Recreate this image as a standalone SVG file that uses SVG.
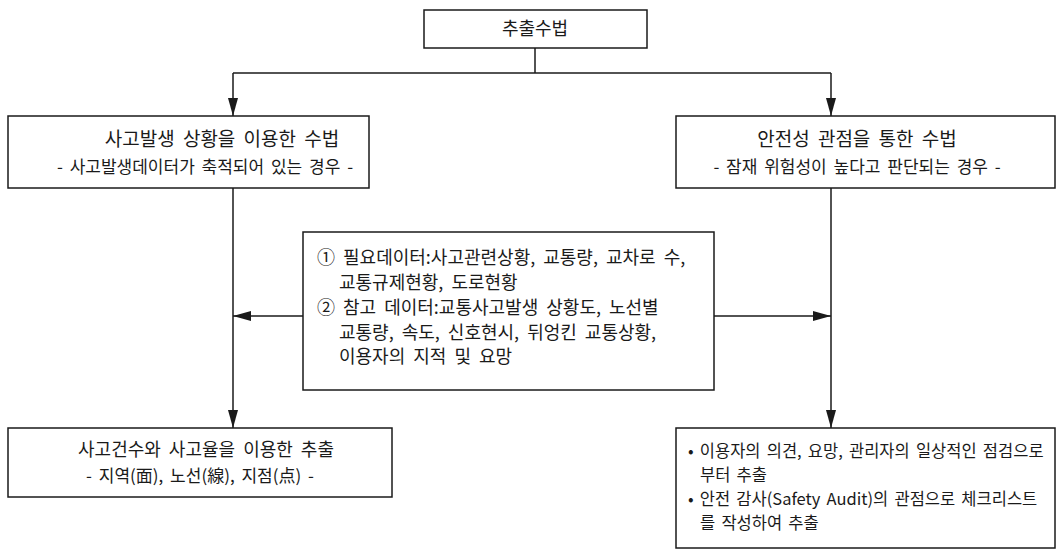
<svg xmlns="http://www.w3.org/2000/svg" width="1064" height="555" viewBox="0 0 1064 555">
<style>
.box{fill:#fff;stroke:#1a1a1a;stroke-width:1.5}
.ln{fill:none;stroke:#1a1a1a;stroke-width:1.5}
text{font-family:"Noto Sans CJK KR","Noto Sans",sans-serif;fill:#1a1a1a;font-size:17px;word-spacing:3px}
.t{font-size:19px;word-spacing:4px}
.c{text-anchor:middle}
.m{font-size:18px;word-spacing:4px}
.b{font-size:16.5px;word-spacing:2.5px}
</style>
<defs>
<marker id="ah" viewBox="0 0 18 10" refX="18" refY="5" markerWidth="18" markerHeight="10" markerUnits="userSpaceOnUse" orient="auto">
<path d="M0,0 L18,5 L0,10 Z" fill="#1a1a1a"/>
</marker>
</defs>
<rect width="1064" height="555" fill="#fff"/>
<g id="connectors">
<path class="ln" d="M535,48 V73"/>
<path class="ln" d="M233,73 H831"/>
<path class="ln" d="M233,73 V116" marker-end="url(#ah)"/>
<path class="ln" d="M831,73 V116" marker-end="url(#ah)"/>
<path class="ln" d="M233,188 V428" marker-end="url(#ah)"/>
<path class="ln" d="M831,188 V428" marker-end="url(#ah)"/>
<path class="ln" d="M303,316 H233" marker-end="url(#ah)"/>
<path class="ln" d="M714,316 H831" marker-end="url(#ah)"/>
</g>
<g id="top">
<rect class="box" x="424" y="10" width="223" height="38"/>
<text class="c" x="535" y="35" style="font-size:18px">추출수법</text>
</g>
<g id="left">
<rect class="box" x="8" y="116" width="361" height="72"/>
<text class="c t" x="222" y="146">사고발생 상황을 이용한 수법</text>
<text class="c" x="205" y="173">- 사고발생데이터가 축적되어 있는 경우 -</text>
</g>
<g id="right">
<rect class="box" x="676" y="116" width="379" height="72"/>
<text class="c t" x="857" y="146">안전성 관점을 통한 수법</text>
<text class="c" x="857" y="173">- 잠재 위험성이 높다고 판단되는 경우 -</text>
</g>
<g id="middle">
<rect class="box" x="303" y="232" width="411" height="158"/>
<text class="m" x="317" y="264">① 필요데이터:사고관련상황, 교통량, 교차로 수,</text>
<text class="m" x="339" y="289">교통규제현황, 도로현황</text>
<text class="m" x="317" y="314">② 참고 데이터:교통사고발생 상황도, 노선별</text>
<text class="m" x="339" y="339">교통량, 속도, 신호현시, 뒤엉킨 교통상황,</text>
<text class="m" x="339" y="363">이용자의 지적 및 요망</text>
</g>
<g id="bottomleft">
<rect class="box" x="8" y="428" width="384" height="69"/>
<text class="c t" x="206" y="456" style="font-size:18px">사고건수와 사고율을 이용한 추출</text>
<text class="c" x="200" y="482">- 지역(面), 노선(線), 지점(点) -</text>
</g>
<g id="bottomright">
<rect class="box" x="676" y="428" width="379" height="120"/>
<text class="b" x="688" y="457">• 이용자의 의견, 요망, 관리자의 일상적인 점검으로</text>
<text class="b" x="700" y="481">부터 추출</text>
<text class="b" x="688" y="505">• 안전 감사(Safety Audit)의 관점으로 체크리스트</text>
<text class="b" x="700" y="529">를 작성하여 추출</text>
</g>
</svg>
